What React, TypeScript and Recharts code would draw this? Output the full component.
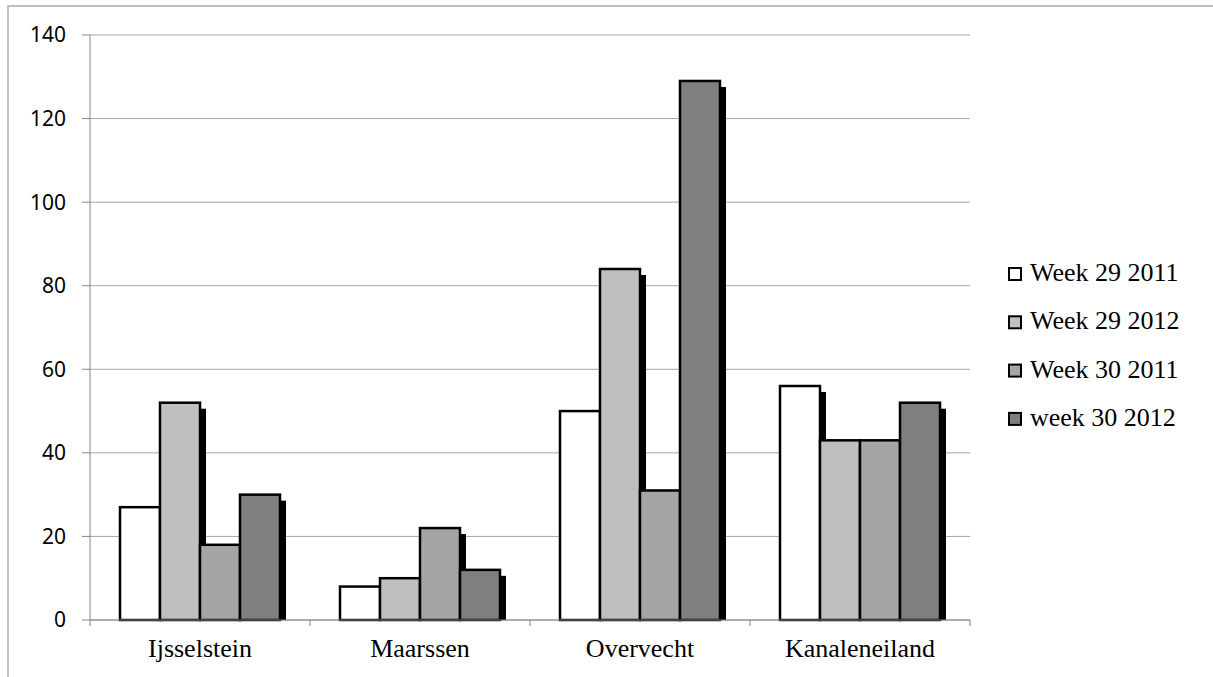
import { BarChart, Bar, XAxis, YAxis, CartesianGrid } from "recharts";

const categories = ["Ijsselstein", "Maarssen", "Overvecht", "Kanaleneiland"];
const week29_2011 = [27, 8, 50, 56];
const week29_2012 = [52, 10, 84, 43];
const week30_2011 = [18, 22, 31, 43];
const week30_2012 = [30, 12, 129, 52];
const yTicks = [0, 20, 40, 60, 80, 100, 120, 140];

const series = [
  { key: "w29_2011", name: "Week 29 2011", values: week29_2011, fill: "#ffffff" },
  { key: "w29_2012", name: "Week 29 2012", values: week29_2012, fill: "#bfbfbf" },
  { key: "w30_2011", name: "Week 30 2011", values: week30_2011, fill: "#a5a5a5" },
  { key: "w30_2012", name: "week 30 2012", values: week30_2012, fill: "#7f7f7f" },
];

const data = categories.map((name, i) => {
  const row: Record<string, string | number> = { name };
  series.forEach((s) => (row[s.key] = s.values[i]));
  return row;
});

const W = 1213;
const H = 677;
const PLOT_LEFT = 90;
const PLOT_RIGHT = 970;
const PLOT_BOTTOM = 620;
const CAT_W = (PLOT_RIGHT - PLOT_LEFT) / categories.length;
const AXIS = "#868686";
const SERIF = "Liberation Serif";

function ShadowBar(props: any) {
  const { x, y, width, height, fill } = props;
  if (!height || height <= 0) return null;
  return (
    <g>
      {height > 6 && (
        <rect x={x + 6} y={y + 6} width={width} height={height - 6} fill="#000" />
      )}
      <rect x={x} y={y} width={width} height={height} fill={fill} stroke="#000" strokeWidth={2.5} />
    </g>
  );
}

function CatTick(props: any) {
  const { x, payload, index } = props;
  const left = x - CAT_W / 2;
  return (
    <g>
      <line x1={left} x2={left} y1={PLOT_BOTTOM} y2={PLOT_BOTTOM + 6} stroke={AXIS} />
      {index === categories.length - 1 && (
        <line x1={left + CAT_W} x2={left + CAT_W} y1={PLOT_BOTTOM} y2={PLOT_BOTTOM + 6} stroke={AXIS} />
      )}
      <text x={x} y={PLOT_BOTTOM + 37} textAnchor="middle" fontFamily={SERIF} fontSize={26} fill="#000">
        {payload.value}
      </text>
    </g>
  );
}

function SideLegend() {
  return (
    <svg width={230} height={220} style={{ position: "absolute", left: 1000, top: 240 }}>
      {series.map((s, i) => (
        <g key={s.key} transform={`translate(0, ${i * 48.3})`}>
          <rect x={9} y={28} width={12} height={12} fill={s.fill} stroke="#000" strokeWidth={2} />
          <text x={30} y={41} fontFamily={SERIF} fontSize={26} fill="#000">
            {s.name}
          </text>
        </g>
      ))}
    </svg>
  );
}

export default function App() {
  return (
    <div style={{ position: "absolute", left: 0, top: 0, width: W, height: H, overflow: "hidden", background: "#fff" }}>
      <div
        style={{
          position: "absolute",
          left: 7,
          top: 5,
          width: 1212,
          height: 700,
          border: "2px solid #c0c0c0",
          boxSizing: "border-box",
        }}
      />
      <div style={{ position: "absolute", left: 0, top: 0 }}>
        <BarChart
          width={W}
          height={H}
          data={data}
          margin={{ top: 35, right: W - PLOT_RIGHT, bottom: 7, left: 0 }}
          barCategoryGap={30}
          barGap={0}
        >
          <CartesianGrid vertical={false} stroke="#a6a6a6" />
          <XAxis
            dataKey="name"
            height={50}
            tickLine={false}
            axisLine={{ stroke: AXIS }}
            tick={<CatTick />}
            interval={0}
          />
          <YAxis
            width={PLOT_LEFT}
            domain={[0, 140]}
            ticks={yTicks}
            tickSize={8}
            tickMargin={16}
            axisLine={{ stroke: AXIS }}
            tickLine={{ stroke: AXIS }}
            tick={{ fontFamily: "Noto Sans", fontSize: 21, fill: "#000" }}
          />
          {series.map((s) => (
            <Bar
              key={s.key}
              dataKey={s.key}
              name={s.name}
              fill={s.fill}
              shape={<ShadowBar />}
              isAnimationActive={false}
            />
          ))}
        </BarChart>
      </div>
      <SideLegend />
    </div>
  );
}
